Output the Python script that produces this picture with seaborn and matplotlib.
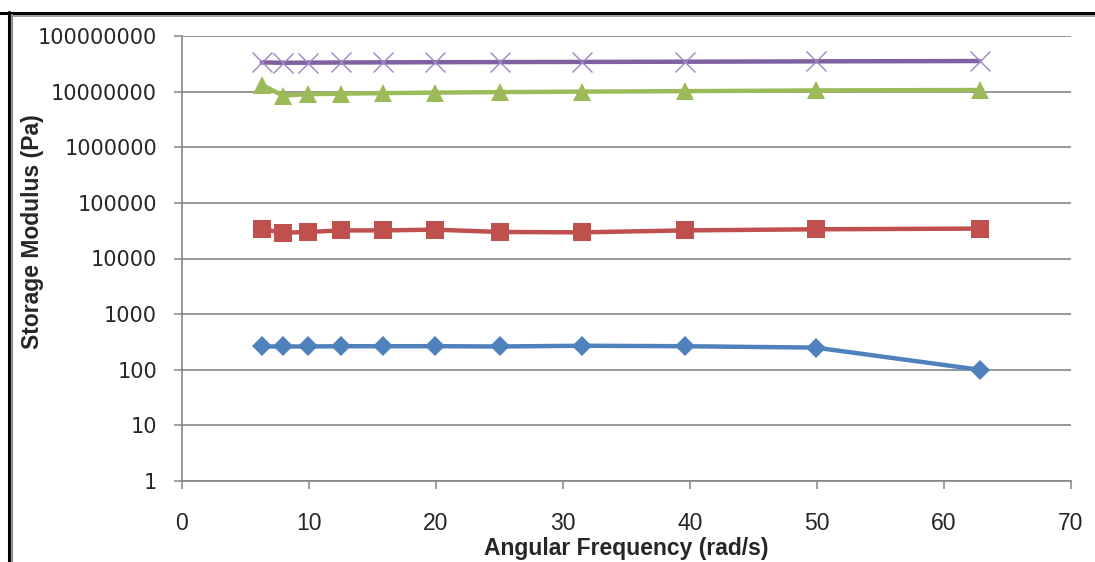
import matplotlib
matplotlib.use("Agg")
import matplotlib.pyplot as plt
import seaborn as sns
import pandas as pd
from matplotlib.lines import Line2D
from matplotlib.ticker import FixedLocator, FixedFormatter, NullLocator

# ---- data ----
freq = [6.28, 7.92, 9.96, 12.5, 15.8, 19.9, 25.0, 31.5, 39.6, 49.9, 62.8]
series_blue = [262, 262, 262, 265, 265, 265, 262, 270, 265, 250, 100]
series_red = [34000, 29000, 30000, 32000, 32000, 33000, 30000, 29500, 32000, 33500, 34500]
series_green = [1.33e7, 8.5e6, 9.0e6, 9.2e6, 9.4e6, 9.6e6, 9.8e6, 1.0e7, 1.02e7, 1.05e7, 1.07e7]
series_purple = [3.35e7, 3.3e7, 3.32e7, 3.34e7, 3.36e7, 3.38e7, 3.4e7, 3.42e7, 3.45e7, 3.5e7, 3.55e7]
series_names = ["S1", "S2", "S3", "S4"]
y_ticks = [1, 10, 100, 1000, 10000, 100000, 1000000, 10000000, 100000000]
y_tick_labels = ["1", "10", "100", "1000", "10000", "100000", "1000000", "10000000", "100000000"]
x_ticks = [0, 10, 20, 30, 40, 50, 60, 70]

colors = {"S1": "#4F81BD", "S2": "#C0504D", "S3": "#9BBB59", "S4": "#7F60A0"}
markers = {"S1": "D", "S2": "s", "S3": "^", "S4": "x"}
msizes = {"S1": 10.5, "S2": 13.5, "S3": 13.5, "S4": 14}

frames = []
for name, vals in zip(series_names, [series_blue, series_red, series_green, series_purple]):
    frames.append(pd.DataFrame({"freq": freq, "G": vals, "series": name}))
df = pd.concat(frames, ignore_index=True)

sns.set_style("white")
plt.rcParams["font.family"] = ["DejaVu Sans"]

fig = plt.figure(figsize=(10.95, 5.62), dpi=100)
ax = fig.add_axes([182 / 1095, 1 - 481 / 562, (1071 - 182) / 1095, (481 - 36) / 562])

for name in series_names:
    sub = df[df["series"] == name]
    kw = dict(marker=markers[name], markersize=msizes[name])
    if name == "S4":
        kw.update(markeredgewidth=1.0, markeredgecolor="#9C85C0")
    else:
        kw.update(markeredgewidth=0)
    sns.lineplot(data=sub, x="freq", y="G", ax=ax, color=colors[name],
                 linewidth=3.2, legend=False, zorder=3, **kw)

ax.set_yscale("log")
ax.set_ylim(1, 1e8)
ax.set_xlim(0, 70)
ax.yaxis.set_major_locator(FixedLocator(y_ticks))
ax.yaxis.set_major_formatter(FixedFormatter(y_tick_labels))
ax.yaxis.set_minor_locator(NullLocator())
ax.set_xticks(x_ticks)
ax.set_xticklabels([str(t) for t in x_ticks], fontfamily="Liberation Sans", fontsize=16.5)
for lab in ax.get_yticklabels():
    lab.set_fontsize(15)

grey = "#868686"
ax.grid(axis="y", color=grey, linewidth=1.2)
ax.grid(axis="x", visible=False)
ax.set_axisbelow(True)
for s in ["top", "right"]:
    ax.spines[s].set_visible(False)
for s in ["left", "bottom"]:
    ax.spines[s].set_color(grey)
    ax.spines[s].set_linewidth(1.2)
ax.tick_params(axis="y", which="major", direction="out", length=6, width=1.1, color=grey, pad=12, left=True)
ax.tick_params(axis="x", which="major", direction="out", length=6, width=1.1, color=grey, pad=16, bottom=True)

ax.set_xlabel("Angular Frequency (rad/s)", fontfamily="Liberation Sans", fontweight="bold",
              fontsize=16.5, va="center", ha="center")
ax.xaxis.set_label_coords(0.5, (481 - 549) / 445)
ax.set_ylabel("Storage Modulus (Pa)", fontfamily="Liberation Sans", fontweight="bold", fontsize=16.5,
              va="center", ha="center")
ax.yaxis.set_label_coords((33 - 182) / 889, (481 - 232) / 445)

# outer frame (chart-area border, partially cropped)
fig.add_artist(Line2D([0, 1], [1 - 13 / 562, 1 - 13 / 562], transform=fig.transFigure, color="black", lw=2.2))
fig.add_artist(Line2D([0.0085, 1], [1 - 15.5 / 562, 1 - 15.5 / 562], transform=fig.transFigure, color="#909090", lw=1.2))
fig.add_artist(Line2D([9 / 1095, 9 / 1095], [0, 1 - 12 / 562], transform=fig.transFigure, color="black", lw=2.2))
fig.add_artist(Line2D([12 / 1095, 12 / 1095], [0, 1 - 14.5 / 562], transform=fig.transFigure, color="#909090", lw=1.6))

fig.savefig("out.png", dpi=100)
